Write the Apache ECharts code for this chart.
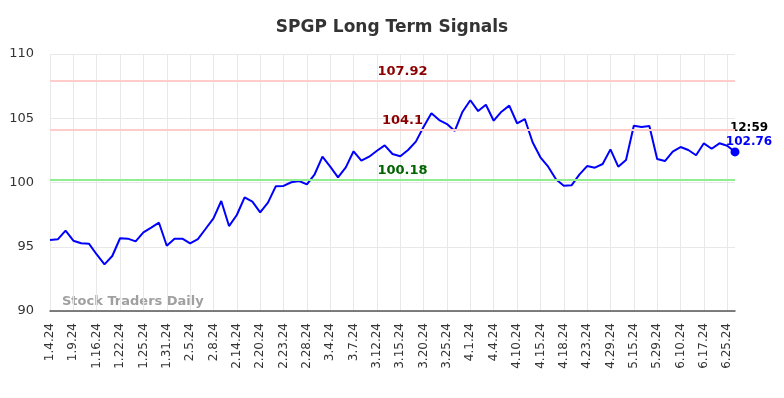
<!DOCTYPE html>
<html>
<head>
<meta charset="utf-8">
<script src="https://cdn.jsdelivr.net/npm/echarts@6/dist/echarts.min.js"></script>
<style>
  html, body { margin: 0; padding: 0; background: #fff; }
  #chart { width: 784px; height: 398px; }
</style>
</head>
<body>
<div id="chart"></div>
<script>
// tick labels, one every 3rd data point
const tickLabels = ['1.4.24', '1.9.24', '1.16.24', '1.22.24', '1.25.24', '1.31.24', '2.5.24', '2.8.24',
  '2.14.24', '2.20.24', '2.23.24', '2.28.24', '3.4.24', '3.7.24', '3.12.24', '3.15.24', '3.20.24',
  '3.25.24', '4.1.24', '4.4.24', '4.10.24', '4.15.24', '4.18.24', '4.23.24', '4.29.24', '5.15.24',
  '5.29.24', '6.10.24', '6.17.24', '6.25.24'];

const prices = [
  95.52, 95.58, 96.25, 95.47, 95.27, 95.24, 94.40, 93.63, 94.28, 95.66,
  95.63, 95.42, 96.12, 96.49, 96.87, 95.08, 95.63, 95.63, 95.27, 95.60,
  96.40, 97.21, 98.56, 96.61, 97.47, 98.85, 98.51, 97.68, 98.43, 99.70,
  99.73, 100.02, 100.12, 99.86, 100.64, 102.01, 101.23, 100.40, 101.18, 102.43,
  101.70, 102.01, 102.47, 102.89, 102.22, 102.04, 102.53, 103.18, 104.34, 105.39,
  104.86, 104.55, 104.01, 105.51, 106.40, 105.56, 106.05, 104.81, 105.51, 105.98,
  104.61, 104.94, 103.13, 101.96, 101.23, 100.25, 99.75, 99.78, 100.61, 101.28,
  101.15, 101.44, 102.58, 101.23, 101.75, 104.42, 104.32, 104.40, 101.83, 101.67,
  102.40, 102.76, 102.53, 102.12, 103.05, 102.63, 103.05, 102.86, 102.38
];

const resistanceLevels = [107.92, 104.1];
const supportLevels = [100.18];
const lastTime = '12:59';
const lastPriceText = '102.76';

const categories = prices.map((p, i) => (i % 3 === 0 && tickLabels[i / 3]) ? tickLabels[i / 3] : '');
const lastIdx = prices.length - 1;

const chart = echarts.init(document.getElementById('chart'));

const lvlLabel = (color) => ({
  show: true,
  position: 'middle',
  formatter: '{c}',
  color: color,
  fontSize: 13,
  fontWeight: 'bold',
  fontFamily: 'DejaVu Sans',
  distance: 3,
  offset: [10, 0]
});

chart.setOption({
  animation: false,
  textStyle: { fontFamily: 'DejaVu Sans' },
  title: {
    text: 'SPGP Long Term Signals',
    left: 'center',
    top: 14,
    textStyle: { fontSize: 17, fontWeight: 'bold', color: '#333', fontFamily: 'DejaVu Sans' }
  },
  grid: { left: 50, right: 49, top: 54, bottom: 87 },
  xAxis: {
    type: 'category',
    data: categories,
    boundaryGap: false,
    axisTick: { show: false },
    axisLine: { lineStyle: { color: '#555', width: 1.5 } },
    axisLabel: {
      interval: 2,
      rotate: 90,
      fontSize: 12,
      color: '#333',
      margin: 12
    },
    splitLine: { show: true, interval: 2, lineStyle: { color: '#e8e8e8' } }
  },
  yAxis: {
    type: 'value',
    min: 90,
    max: 110,
    interval: 5,
    axisLine: { show: false },
    axisTick: { show: false },
    axisLabel: { fontSize: 13, color: '#333', margin: 16 },
    splitLine: { lineStyle: { color: '#e8e8e8' } }
  },
  graphic: [{
    type: 'text',
    left: 62,
    top: 295,
    style: { text: 'Stock Traders Daily', fill: '#a0a0a0', fontSize: 13, fontWeight: 'bold', fontFamily: 'DejaVu Sans' }
  }],
  series: [
    {
      type: 'line',
      data: prices,
      showSymbol: false,
      symbol: 'none',
      lineStyle: { color: '#0000ff', width: 2 },
      markLine: {
        silent: true,
        symbol: 'none',
        data: resistanceLevels.map(v => ({ yAxis: v, lineStyle: { color: '#ffcccc', width: 2, type: 'solid' }, label: lvlLabel('#8b0000') }))
          .concat(supportLevels.map(v => ({ yAxis: v, lineStyle: { color: '#90ee90', width: 2, type: 'solid' }, label: lvlLabel('#006400') })))
      }
    },
    {
      type: 'scatter',
      data: [[lastIdx, prices[lastIdx]]],
      symbolSize: 9,
      itemStyle: { color: '#0000ff', opacity: 1 },
      label: {
        show: true,
        position: 'top',
        offset: [14, 1],
        distance: 0,
        formatter: () => '{t|' + lastTime + '}\n{v|' + lastPriceText + '}',
        rich: {
          t: { color: '#000', fontSize: 12, fontWeight: 'bold', align: 'center', lineHeight: 14 },
          v: { color: '#0000ff', fontSize: 12, fontWeight: 'bold', align: 'center', lineHeight: 14 }
        }
      }
    }
  ]
});
</script>
</body>
</html>
